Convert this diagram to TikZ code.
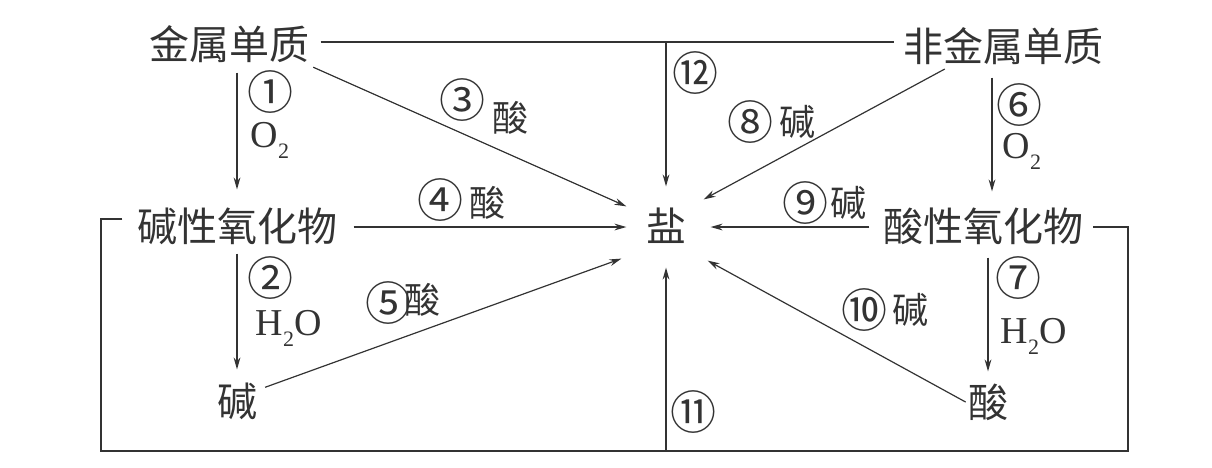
\documentclass[tikz,border=0pt]{standalone}
\usepackage{fontspec}
\setmainfont{Liberation Serif}
\newfontfamily\cjk{Noto Sans CJK SC}
\usetikzlibrary{arrows.meta}
\newcommand{\subtwo}{\raisebox{-5.5pt}{\fontsize{11}{11}\selectfont 2}}

\begin{document}
\begin{tikzpicture}[x=0.5pt, y=-0.5pt, color=black!80, line width=0.6pt, >={Stealth[length=6pt,width=3.4pt]},
    chem/.style={inner sep=0pt, text height=17pt, text depth=3pt, font=\cjk\fontsize{20}{24}\selectfont},
    lbl/.style={inner sep=0pt, font=\cjk\fontsize{18}{22}\selectfont},
    circ/.style={inner sep=0pt, font=\cjk\fontsize{23}{26}\selectfont},
    formula/.style={inner sep=0pt, font=\fontsize{19}{22}\selectfont}]

    \useasboundingbox (0,0) rectangle (1212,467);

    % Substances
    \node[chem] (metal) at (229,45) {金属单质};
    \node[chem] (nonmetal) at (1003,47) {非金属单质};
    \node[chem] (oxb) at (237,227) {碱性氧化物};
    \node[chem] (salt) at (666,227) {盐};
    \node[chem] (oxa) at (983,227) {酸性氧化物};
    \node[chem] (base) at (237,402) {碱};
    \node[chem] (acid) at (988,403) {酸};

    % Corners of the loop under the diagram
    \coordinate (loopl) at (101,451);
    \coordinate (loopr) at (1128,451);

    % Metal side
    \draw[->, shorten <=3.5pt, shorten >=8.5pt] (oxb.north |- metal.south) -- (oxb.north);
    \draw[->, shorten <=3pt, shorten >=6pt] (base.north |- oxb.south) -- (base.north);
    \draw[->, shorten <=2pt] (metal.south east) -- ([xshift=-9.5pt]salt.north west);
    \draw[->, shorten <=8pt, shorten >=9.5pt] (oxb.east) -- (salt.west);
    \draw[->, shorten <=4pt] ([yshift=6pt]base.east) -- ([shift={(-12pt,-5.5pt)}]salt.south west);

    % Non-metal side
    \draw[->, shorten <=5pt, shorten >=7.5pt] ([xshift=4.5pt]oxa.north |- nonmetal.south) -- ([xshift=4.5pt]oxa.north);
    \draw[->, shorten <=5pt, shorten >=5.5pt] (acid.north |- oxa.south) -- (acid.north);
    \draw[->, shorten <=1.5pt] ([xshift=22.5pt]nonmetal.south west) -- ([shift={(8.5pt,3.5pt)}]salt.north east);
    \draw[->, shorten <=6.5pt, shorten >=12pt] (oxa.west) -- (salt.east);
    \draw[->, shorten <=1pt] (acid.west) -- ([shift={(10.5pt,-6.5pt)}]salt.south east);

    % Metal with non-metal, oxide with oxide
    \draw[shorten <=5.5pt, shorten >=4pt] ([yshift=1.5pt]metal.east) -- ([yshift=1.5pt]metal.east -| nonmetal.west);
    \draw[->, shorten >=10pt] ([yshift=1.5pt]metal.east -| salt.north) -- (salt.north);
    \draw ([shift={(-7pt,4pt)}]oxb.west) -| (loopl) -- (loopr) |- ([xshift=4.5pt]oxa.east);
    \draw[->, shorten >=10pt] (loopl -| salt.south) -- (salt.south);

    % Labels
    \node[circ] (c1) at (270,92) {①};
    \node[formula, anchor=base west] (o1) at (250,147) {O\subtwo};
    \node[circ] (c2) at (270,278) {②};
    \node[formula, anchor=base west] (w2) at (255,335) {H\subtwo O};
    \node[circ] (c3) at (462,100) {③};
    \node[lbl] (r3) at (510,118) {酸};
    \node[circ] (c4) at (440,200) {④};
    \node[lbl] (r4) at (487,203) {酸};
    \node[circ] (c5) at (388,303) {⑤};
    \node[lbl] (r5) at (422,300) {酸};
    \node[circ] (c6) at (1019,105) {⑥};
    \node[formula, anchor=base west] (o6) at (1002,158) {O\subtwo};
    \node[circ] (c7) at (1018,278) {⑦};
    \node[formula, anchor=base west] (w7) at (1000,343) {H\subtwo O};
    \node[circ] (c8) at (750,122) {⑧};
    \node[lbl] (r8) at (797,122) {碱};
    \node[circ] (c9) at (805,203) {⑨};
    \node[lbl] (r9) at (848,203) {碱};
    \node[circ] (c10) at (864,310) {⑩};
    \node[lbl] (r10) at (910,310) {碱};
    \node[circ] (c11) at (693,412) {⑪};
    \node[circ] (c12) at (695,73) {⑫};

\end{tikzpicture}
\end{document}
